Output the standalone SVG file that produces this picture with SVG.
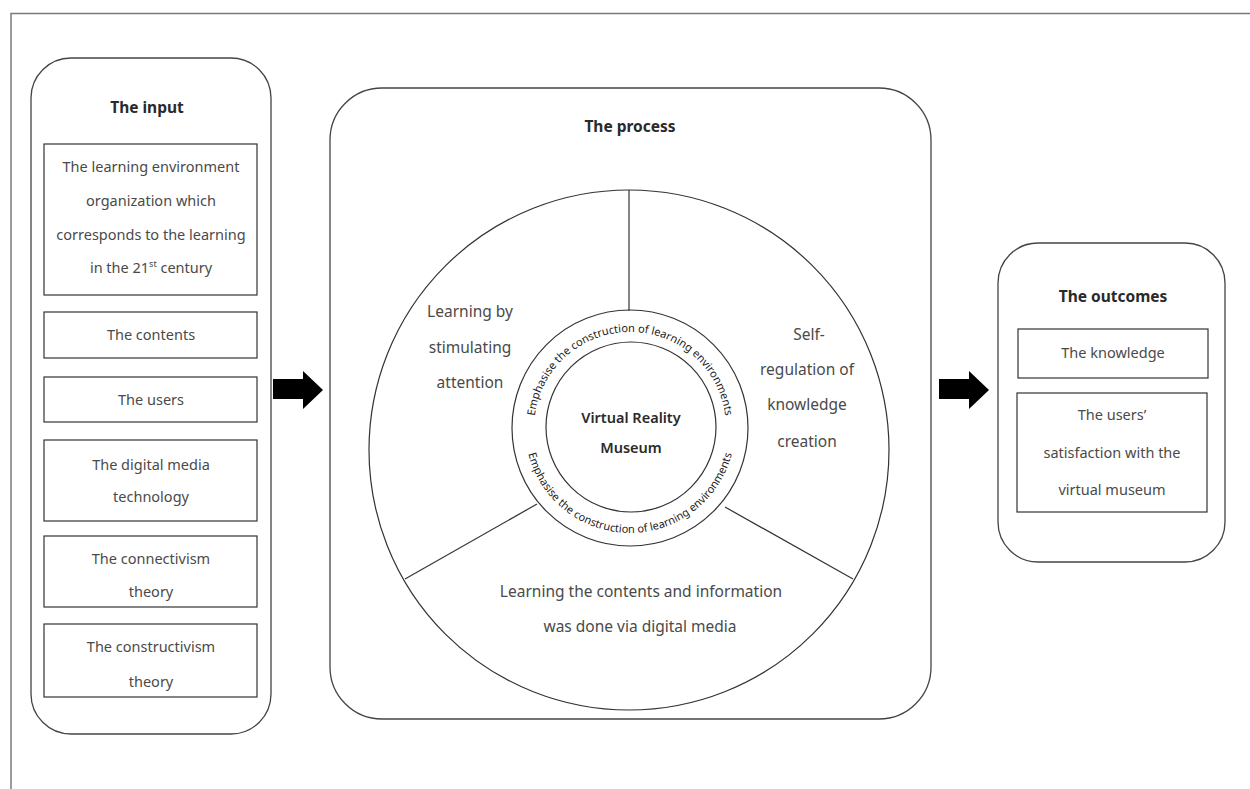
<svg xmlns="http://www.w3.org/2000/svg" width="1250" height="789" viewBox="0 0 1250 789">
<style>
.frame{fill:none;stroke:#7a7a7a;stroke-width:1.5}
.outer{fill:#fff;stroke:#444;stroke-width:1.3}
.box{fill:#fff;stroke:#333;stroke-width:1.2}
.ln{fill:none;stroke:#333;stroke-width:1.2}
.t{font-family:"Noto Sans","Open Sans",sans-serif;font-size:14.5px;fill:#4a4a4a;text-anchor:middle}
.big{font-size:15.5px}
.h{font-family:"Noto Sans","Open Sans",sans-serif;font-size:15.5px;font-weight:bold;fill:#2a2a2a;text-anchor:middle}
.c{font-family:"Noto Sans","Open Sans",sans-serif;font-size:14.5px;font-weight:600;fill:#2a2a2a;text-anchor:middle}
.ring{font-family:"Noto Sans","Open Sans",sans-serif;font-size:11px;fill:#222}
.arrow{fill:#000}
</style>
<defs>
<path id="topArc" d="M 539.8,460.8 A 96 96 0 1 1 720.2,460.8"/>
<path id="botArc" d="M 531.3,392.1 A 105 105 0 1 0 728.7,392.1"/>
</defs>
<rect width="1250" height="789" fill="#fff"/>
<path class="frame" d="M 11,789 L 11,13.5 L 1250,13.5"/>

<g id="input">
<rect class="outer" x="31" y="58" width="240" height="676" rx="40" ry="40"/>
<text class="h" x="147" y="113">The input</text>
<rect class="box" x="44" y="144" width="213" height="151"/>
<text class="t" x="151" y="172">The learning environment</text>
<text class="t" x="151" y="206">organization which</text>
<text class="t" x="151" y="240">corresponds to the learning</text>
<text class="t" x="151" y="273">in the 21<tspan font-size="9" dy="-6">st</tspan><tspan dy="6"> century</tspan></text>
<rect class="box" x="44" y="312" width="213" height="46"/>
<text class="t" x="151" y="340">The contents</text>
<rect class="box" x="44" y="377" width="213" height="45"/>
<text class="t" x="151" y="405">The users</text>
<rect class="box" x="44" y="440" width="213" height="81"/>
<text class="t" x="151" y="470">The digital media</text>
<text class="t" x="151" y="502">technology</text>
<rect class="box" x="44" y="536" width="213" height="71"/>
<text class="t" x="151" y="564">The connectivism</text>
<text class="t" x="151" y="597">theory</text>
<rect class="box" x="44" y="624" width="213" height="73"/>
<text class="t" x="151" y="652">The constructivism</text>
<text class="t" x="151" y="687">theory</text>
</g>

<g id="process">
<rect class="outer" x="330" y="88" width="601" height="631" rx="52" ry="52"/>
<text class="h" x="630" y="132">The process</text>
<circle class="ln" cx="629" cy="450" r="260"/>
<line class="ln" x1="629" y1="190" x2="629" y2="311"/>
<line class="ln" x1="405" y1="579" x2="537" y2="504"/>
<line class="ln" x1="725" y1="507" x2="853" y2="579"/>
<circle class="ln" cx="630" cy="428" r="118"/>
<circle class="ln" cx="631" cy="427" r="85"/>
<text class="ring"><textPath href="#topArc" startOffset="50%" text-anchor="middle">Emphasise the construction of learning environments</textPath></text>
<text class="ring"><textPath href="#botArc" startOffset="50%" text-anchor="middle">Emphasise the construction of learning environments</textPath></text>
<text class="c" x="631" y="423">Virtual Reality</text>
<text class="c" x="631" y="453">Museum</text>
<text class="t big" x="470" y="317">Learning by</text>
<text class="t big" x="470" y="353">stimulating</text>
<text class="t big" x="470" y="388">attention</text>
<text class="t big" x="809" y="340">Self-</text>
<text class="t big" x="807" y="375">regulation of</text>
<text class="t big" x="807" y="410">knowledge</text>
<text class="t big" x="807" y="447">creation</text>
<text class="t big" x="641" y="597">Learning the contents and information</text>
<text class="t big" x="640" y="632">was done via digital media</text>
</g>

<g id="outcomes">
<rect class="outer" x="998" y="243" width="227" height="319" rx="40" ry="40"/>
<text class="h" x="1113" y="302">The outcomes</text>
<rect class="box" x="1018" y="329" width="190" height="49"/>
<text class="t" x="1113" y="358">The knowledge</text>
<rect class="box" x="1017" y="393" width="190" height="119"/>
<text class="t" x="1112" y="420">The users’</text>
<text class="t" x="1112" y="458">satisfaction with the</text>
<text class="t" x="1112" y="495">virtual museum</text>
</g>

<g id="connectors">
<polygon class="arrow" points="273,379 303,379 303,371 323,390 303,409 303,399 273,399"/>
<polygon class="arrow" points="939,379 969,379 969,371 989,390 969,409 969,399 939,399"/>
</g>
</svg>
